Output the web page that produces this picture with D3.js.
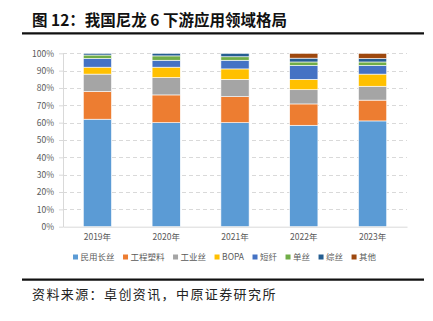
<!DOCTYPE html>
<html><head><meta charset="utf-8">
<script src="https://cdn.jsdelivr.net/npm/d3@7"></script>
<style>
body{margin:0;background:#fff;}
svg{display:block;}
</style></head>
<body>
<svg id="c" width="433" height="321"></svg>
<script>
const years = ["2019年","2020年","2021年","2022年","2023年"];
const seriesNames = ["民用长丝","工程塑料","工业丝","BOPA","短纤","单丝","综丝","其他"];
const s民用长丝 = [62, 60, 60, 58.5, 61];
const s工程塑料 = [16, 16, 15, 12.3, 12];
const s工业丝 = [10, 10, 10, 8.2, 8];
const sBOPA = [4, 6, 6, 6, 7];
const s短纤 = [5, 4, 5, 8, 5];
const s单丝 = [2, 2.5, 2, 2, 2];
const s综丝 = [1, 1.5, 2, 2.2, 2];
const s其他 = [0, 0, 0, 2.8, 3];
const yTicks = [0,10,20,30,40,50,60,70,80,90,100];
const colors = ["#5B9BD5","#ED7D31","#A5A5A5","#FFC000","#4472C4","#70AD47","#255E91","#9E480E"];

const seriesVals = [s民用长丝,s工程塑料,s工业丝,sBOPA,s短纤,s单丝,s综丝,s其他];
const rows = years.map((y,i)=>{const r={year:y}; seriesNames.forEach((n,j)=>r[n]=seriesVals[j][i]); return r;});
const stack = d3.stack().keys(seriesNames)(rows);

const svg = d3.select("#c");
const font = "'Noto Sans CJK SC','Noto Sans',sans-serif";
const L=63,R=407,T=53.3,B=226.7;
const x = d3.scaleBand().domain(years).range([L,R]).paddingInner(0.59).paddingOuter(0.295);
const y = d3.scaleLinear().domain([0,100]).range([B,T]);

// title
svg.append("text").attr("x",32).attr("y",26).attr("font-family","'Noto Sans CJK SC',sans-serif")
  .attr("font-weight","bold").attr("font-size",15.5).attr("fill","#111").text("图 12：我国尼龙 6 下游应用领域格局");
svg.append("line").attr("x1",22).attr("x2",424).attr("y1",33.3).attr("y2",33.3).attr("stroke","#111").attr("stroke-width",2.2);

// grid
svg.append("g").selectAll("line").data(yTicks.filter(d=>d>0)).join("line")
  .attr("x1",L).attr("x2",R).attr("y1",d=>Math.round(y(d))+0.5).attr("y2",d=>Math.round(y(d))+0.5)
  .attr("stroke","#D9D9D9").attr("stroke-width",1).attr("stroke-dasharray","4,3");

// y axis
const ya = svg.append("g").attr("transform",`translate(${L},0)`)
  .call(d3.axisLeft(y).tickValues(yTicks).tickFormat(d=>d+"%").tickSize(4).tickSizeOuter(0));
ya.select(".domain").attr("stroke","#D9D9D9");
ya.selectAll(".tick line").attr("stroke","#D9D9D9");
ya.selectAll("text").attr("font-family",font).attr("font-size",8.5).attr("fill","#595959").attr("dx",-2);

// bars
svg.append("g").selectAll("g").data(stack).join("g").attr("fill",(d,i)=>colors[i])
  .selectAll("rect").data(d=>d).join("rect")
  .attr("x",d=>x(d.data.year)).attr("width",x.bandwidth())
  .attr("y",d=>y(d[1])).attr("height",d=>Math.max(0,y(d[0])-y(d[1])))
  .attr("stroke","#fff").attr("stroke-width",0.6);

// x axis
const xa = svg.append("g").attr("transform",`translate(0,${B})`).call(d3.axisBottom(x).tickSize(0));
xa.select(".domain").attr("stroke","#D9D9D9");
xa.selectAll("text").attr("font-family",font).attr("font-size",8.5).attr("fill","#595959").attr("dy","1.2em");

// legend
const lg = svg.append("g").attr("transform","translate(73,257)");
let cx = 0;
seriesNames.forEach((n,i)=>{
  const g = lg.append("g").attr("transform",`translate(${cx},0)`);
  g.append("rect").attr("x",0).attr("y",-2.5).attr("width",5).attr("height",5).attr("fill",colors[i]);
  const t = g.append("text").attr("x",7.5).attr("y",0).attr("dy","0.35em").attr("font-family",font)
    .attr("font-size",8.5).attr("fill","#595959").text(n);
  cx += 7.5 + t.node().getComputedTextLength() + 8.5;
});

// bottom rule + source
svg.append("line").attr("x1",22).attr("x2",424).attr("y1",279.7).attr("y2",279.7).attr("stroke","#111").attr("stroke-width",2.2);
svg.append("text").attr("x",32).attr("y",299).attr("font-family","'Noto Sans CJK SC',sans-serif")
  .attr("font-size",13).attr("letter-spacing",1.4).attr("fill","#222").text("资料来源：卓创资讯，中原证券研究所");
</script>
</body></html>
